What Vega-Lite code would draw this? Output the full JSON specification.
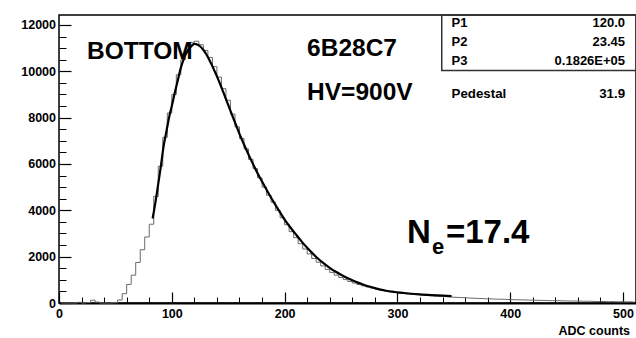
{
  "$schema": "https://vega.github.io/schema/vega-lite/v6.json",
  "width": 577,
  "height": 288,
  "autosize": {"type": "none"},
  "padding": {"left": 59, "top": 15, "right": 0, "bottom": 35},
  "background": "white",
  "config": {
    "view": {"stroke": "black", "strokeWidth": 1.5},
    "font": "Liberation Sans",
    "axis": {
      "labelFont": "Liberation Sans",
      "labelFontWeight": "bold",
      "labelColor": "black",
      "tickColor": "black",
      "domainColor": "black",
      "grid": false,
      "labelFlush": false,
      "labelOverlap": false,
      "labelBound": false
    }
  },
  "data": {"values": [{}]},
  "datasets": {
    "hist": [
      {"adc": 2, "counts": 0}, {"adc": 6, "counts": 0}, {"adc": 10, "counts": 0}, {"adc": 14, "counts": 0},
      {"adc": 18, "counts": 30}, {"adc": 22, "counts": 0}, {"adc": 26, "counts": 20}, {"adc": 30, "counts": 120},
      {"adc": 34, "counts": 40}, {"adc": 38, "counts": 0}, {"adc": 42, "counts": 0}, {"adc": 46, "counts": 0},
      {"adc": 50, "counts": 10}, {"adc": 54, "counts": 130}, {"adc": 58, "counts": 400}, {"adc": 62, "counts": 800},
      {"adc": 66, "counts": 1200}, {"adc": 70, "counts": 1750}, {"adc": 74, "counts": 2300}, {"adc": 78, "counts": 2850},
      {"adc": 82, "counts": 3400}, {"adc": 86, "counts": 4600}, {"adc": 90, "counts": 5900}, {"adc": 94, "counts": 7150},
      {"adc": 98, "counts": 8200}, {"adc": 102, "counts": 9000}, {"adc": 106, "counts": 9850}, {"adc": 110, "counts": 10500},
      {"adc": 114, "counts": 10950}, {"adc": 118, "counts": 11250}, {"adc": 122, "counts": 11300}, {"adc": 126, "counts": 11150},
      {"adc": 130, "counts": 10900}, {"adc": 134, "counts": 10600}, {"adc": 138, "counts": 10200}, {"adc": 142, "counts": 9750},
      {"adc": 146, "counts": 9250}, {"adc": 150, "counts": 8750}, {"adc": 154, "counts": 8150}, {"adc": 158, "counts": 7600},
      {"adc": 162, "counts": 7100}, {"adc": 166, "counts": 6650}, {"adc": 170, "counts": 6200}, {"adc": 174, "counts": 5800},
      {"adc": 178, "counts": 5400}, {"adc": 182, "counts": 5000}, {"adc": 186, "counts": 4650}, {"adc": 190, "counts": 4350},
      {"adc": 194, "counts": 4000}, {"adc": 198, "counts": 3680}, {"adc": 202, "counts": 3380}, {"adc": 206, "counts": 3080},
      {"adc": 210, "counts": 2820}, {"adc": 214, "counts": 2560}, {"adc": 218, "counts": 2330}, {"adc": 222, "counts": 2120},
      {"adc": 226, "counts": 1920}, {"adc": 230, "counts": 1760}, {"adc": 234, "counts": 1600}, {"adc": 238, "counts": 1450},
      {"adc": 242, "counts": 1320}, {"adc": 246, "counts": 1200}, {"adc": 250, "counts": 1100}, {"adc": 254, "counts": 1010},
      {"adc": 258, "counts": 930}, {"adc": 262, "counts": 860}, {"adc": 266, "counts": 800}, {"adc": 270, "counts": 740},
      {"adc": 274, "counts": 690}, {"adc": 278, "counts": 640}, {"adc": 282, "counts": 600}, {"adc": 286, "counts": 560},
      {"adc": 290, "counts": 520}, {"adc": 294, "counts": 490}, {"adc": 298, "counts": 460}, {"adc": 302, "counts": 430},
      {"adc": 306, "counts": 410}, {"adc": 310, "counts": 390}, {"adc": 314, "counts": 375}, {"adc": 318, "counts": 360},
      {"adc": 322, "counts": 345}, {"adc": 326, "counts": 330}, {"adc": 330, "counts": 315}, {"adc": 334, "counts": 300},
      {"adc": 338, "counts": 290}, {"adc": 342, "counts": 278}, {"adc": 346, "counts": 265}, {"adc": 350, "counts": 250},
      {"adc": 354, "counts": 240}, {"adc": 358, "counts": 230}, {"adc": 362, "counts": 220}, {"adc": 366, "counts": 210},
      {"adc": 370, "counts": 200}, {"adc": 374, "counts": 195}, {"adc": 378, "counts": 185}, {"adc": 382, "counts": 180},
      {"adc": 386, "counts": 170}, {"adc": 390, "counts": 165}, {"adc": 394, "counts": 160}, {"adc": 398, "counts": 150},
      {"adc": 402, "counts": 145}, {"adc": 406, "counts": 140}, {"adc": 410, "counts": 135}, {"adc": 414, "counts": 130},
      {"adc": 418, "counts": 125}, {"adc": 422, "counts": 120}, {"adc": 426, "counts": 115}, {"adc": 430, "counts": 110},
      {"adc": 434, "counts": 105}, {"adc": 438, "counts": 100}, {"adc": 442, "counts": 100}, {"adc": 446, "counts": 95},
      {"adc": 450, "counts": 90}, {"adc": 454, "counts": 85}, {"adc": 458, "counts": 85}, {"adc": 462, "counts": 80},
      {"adc": 466, "counts": 75}, {"adc": 470, "counts": 75}, {"adc": 474, "counts": 70}, {"adc": 478, "counts": 65},
      {"adc": 482, "counts": 65}, {"adc": 486, "counts": 60}, {"adc": 490, "counts": 60}, {"adc": 494, "counts": 55},
      {"adc": 498, "counts": 55}, {"adc": 502, "counts": 50}, {"adc": 506, "counts": 50}, {"adc": 510, "counts": 45}
    ],
    "fit": [
      {"adc": 83, "counts": 3650}, {"adc": 85, "counts": 4200}, {"adc": 88, "counts": 5150}, {"adc": 90, "counts": 5800},
      {"adc": 93, "counts": 6850}, {"adc": 95, "counts": 7350}, {"adc": 98, "counts": 8100}, {"adc": 100, "counts": 8500},
      {"adc": 103, "counts": 9150}, {"adc": 105, "counts": 9550}, {"adc": 108, "counts": 10150}, {"adc": 110, "counts": 10450},
      {"adc": 113, "counts": 10800}, {"adc": 115, "counts": 10950}, {"adc": 118, "counts": 11120}, {"adc": 120, "counts": 11180},
      {"adc": 123, "counts": 11150}, {"adc": 125, "counts": 11080}, {"adc": 128, "counts": 10920}, {"adc": 130, "counts": 10780},
      {"adc": 133, "counts": 10520}, {"adc": 135, "counts": 10320}, {"adc": 138, "counts": 10000}, {"adc": 140, "counts": 9780},
      {"adc": 143, "counts": 9430}, {"adc": 145, "counts": 9180}, {"adc": 148, "counts": 8800}, {"adc": 150, "counts": 8550},
      {"adc": 155, "counts": 7920}, {"adc": 160, "counts": 7300}, {"adc": 165, "counts": 6730}, {"adc": 170, "counts": 6200},
      {"adc": 175, "counts": 5700}, {"adc": 180, "counts": 5240}, {"adc": 185, "counts": 4800}, {"adc": 190, "counts": 4380},
      {"adc": 195, "counts": 3990}, {"adc": 200, "counts": 3600}, {"adc": 205, "counts": 3270}, {"adc": 210, "counts": 2960},
      {"adc": 215, "counts": 2660}, {"adc": 220, "counts": 2380}, {"adc": 225, "counts": 2130}, {"adc": 230, "counts": 1900},
      {"adc": 235, "counts": 1700}, {"adc": 240, "counts": 1520}, {"adc": 245, "counts": 1360}, {"adc": 250, "counts": 1220},
      {"adc": 255, "counts": 1090}, {"adc": 260, "counts": 980}, {"adc": 265, "counts": 880}, {"adc": 270, "counts": 790},
      {"adc": 275, "counts": 710}, {"adc": 280, "counts": 640}, {"adc": 285, "counts": 580}, {"adc": 290, "counts": 530},
      {"adc": 295, "counts": 490}, {"adc": 300, "counts": 460}, {"adc": 310, "counts": 410}, {"adc": 320, "counts": 370},
      {"adc": 330, "counts": 340}, {"adc": 340, "counts": 315}, {"adc": 348, "counts": 295}
    ]
  },
  "layer": [
    {
      "data": {"name": "hist"},
      "mark": {"type": "line", "interpolate": "step", "color": "#6a6a6a", "strokeWidth": 1},
      "encoding": {
        "x": {
          "field": "adc", "type": "quantitative",
          "scale": {"domain": [0, 511.5], "nice": false, "zero": false},
          "axis": {
            "orient": "bottom",
            "values": [0, 100, 200, 300, 400, 500],
            "format": "d",
            "tickSize": -11,
            "tickWidth": 1.2,
            "domainWidth": 2,
            "labelFontSize": 12.5,
            "labelPadding": 15,
            "title": "ADC counts",
            "titleFont": "Liberation Sans",
            "titleFontWeight": "bold",
            "titleFontSize": 12.5,
            "titleColor": "black",
            "titleAlign": "left",
            "titleBaseline": "alphabetic",
            "titleAnchor": null,
            "titleX": 499,
            "titleY": 31.5
          }
        },
        "y": {
          "field": "counts", "type": "quantitative",
          "scale": {"domain": [0, 12430], "nice": false},
          "axis": {
            "orient": "left",
            "values": [0, 2000, 4000, 6000, 8000, 10000, 12000],
            "format": "d",
            "tickSize": -12,
            "tickWidth": 1.2,
            "domain": false,
            "labelFontSize": 12.5,
            "labelPadding": 15.5,
            "title": null
          }
        }
      }
    },
    {
      "data": {"name": "fit"},
      "mark": {"type": "line", "interpolate": "monotone", "color": "black", "strokeWidth": 2.2},
      "encoding": {
        "x": {
          "field": "adc", "type": "quantitative",
          "axis": {
            "orient": "bottom",
            "values": [20, 40, 60, 80, 120, 140, 160, 180, 220, 240, 260, 280, 320, 340, 360, 380, 420, 440, 460, 480],
            "tickSize": -6,
            "tickWidth": 1,
            "labels": false,
            "domain": false,
            "title": null
          }
        },
        "y": {
          "field": "counts", "type": "quantitative",
          "axis": {
            "orient": "left",
            "values": [500, 1000, 1500, 2500, 3000, 3500, 4500, 5000, 5500, 6500, 7000, 7500, 8500, 9000, 9500, 10500, 11000, 11500],
            "tickSize": -7,
            "tickWidth": 1,
            "labels": false,
            "domain": false,
            "title": null
          }
        }
      }
    },
    {
      "mark": {"type": "rect", "fill": null, "fillOpacity": 0, "stroke": "#333333", "strokeWidth": 1.5},
      "encoding": {
        "x": {"datum": 339.3, "type": "quantitative", "axis": null},
        "x2": {"datum": 540},
        "y": {"datum": 10035, "type": "quantitative", "axis": null},
        "y2": {"datum": 12430}
      }
    },
    {
      "mark": {"type": "text", "text": "BOTTOM", "fontWeight": "bold", "fontSize": 24.5, "align": "left", "baseline": "alphabetic", "color": "black"},
      "encoding": {"x": {"datum": 24.8, "type": "quantitative", "axis": null}, "y": {"datum": 10540, "type": "quantitative", "axis": null}}
    },
    {
      "mark": {"type": "text", "text": "6B28C7", "fontWeight": "bold", "fontSize": 24.5, "align": "left", "baseline": "alphabetic", "color": "black"},
      "encoding": {"x": {"datum": 219.9, "type": "quantitative", "axis": null}, "y": {"datum": 10650, "type": "quantitative", "axis": null}}
    },
    {
      "mark": {"type": "text", "text": "HV=900V", "fontWeight": "bold", "fontSize": 24.5, "align": "left", "baseline": "alphabetic", "color": "black"},
      "encoding": {"x": {"datum": 219.9, "type": "quantitative", "axis": null}, "y": {"datum": 8783, "type": "quantitative", "axis": null}}
    },
    {
      "mark": {"type": "text", "text": "N", "fontWeight": "bold", "fontSize": 33, "align": "left", "baseline": "alphabetic", "color": "black"},
      "encoding": {"x": {"datum": 308.5, "type": "quantitative", "axis": null}, "y": {"datum": 2581, "type": "quantitative", "axis": null}}
    },
    {
      "mark": {"type": "text", "text": "e", "fontWeight": "bold", "fontSize": 22, "align": "left", "baseline": "alphabetic", "color": "black"},
      "encoding": {"x": {"datum": 330.7, "type": "quantitative", "axis": null}, "y": {"datum": 2136, "type": "quantitative", "axis": null}}
    },
    {
      "mark": {"type": "text", "text": "=17.4", "fontWeight": "bold", "fontSize": 33, "align": "left", "baseline": "alphabetic", "color": "black"},
      "encoding": {"x": {"datum": 343, "type": "quantitative", "axis": null}, "y": {"datum": 2581, "type": "quantitative", "axis": null}}
    },
    {
      "mark": {"type": "text", "text": "P1", "fontWeight": "bold", "fontSize": 13, "align": "left", "baseline": "middle", "color": "black"},
      "encoding": {"x": {"datum": 348, "type": "quantitative", "axis": null}, "y": {"datum": 12093, "type": "quantitative", "axis": null}}
    },
    {
      "mark": {"type": "text", "text": "P2", "fontWeight": "bold", "fontSize": 13, "align": "left", "baseline": "middle", "color": "black"},
      "encoding": {"x": {"datum": 348, "type": "quantitative", "axis": null}, "y": {"datum": 11273, "type": "quantitative", "axis": null}}
    },
    {
      "mark": {"type": "text", "text": "P3", "fontWeight": "bold", "fontSize": 13, "align": "left", "baseline": "middle", "color": "black"},
      "encoding": {"x": {"datum": 348, "type": "quantitative", "axis": null}, "y": {"datum": 10436, "type": "quantitative", "axis": null}}
    },
    {
      "mark": {"type": "text", "text": "120.0", "fontWeight": "bold", "fontSize": 13, "align": "right", "baseline": "middle", "color": "black"},
      "encoding": {"x": {"datum": 501.8, "type": "quantitative", "axis": null}, "y": {"datum": 12093, "type": "quantitative", "axis": null}}
    },
    {
      "mark": {"type": "text", "text": "23.45", "fontWeight": "bold", "fontSize": 13, "align": "right", "baseline": "middle", "color": "black"},
      "encoding": {"x": {"datum": 501.8, "type": "quantitative", "axis": null}, "y": {"datum": 11273, "type": "quantitative", "axis": null}}
    },
    {
      "mark": {"type": "text", "text": "0.1826E+05", "fontWeight": "bold", "fontSize": 13, "align": "right", "baseline": "middle", "color": "black"},
      "encoding": {"x": {"datum": 501.8, "type": "quantitative", "axis": null}, "y": {"datum": 10436, "type": "quantitative", "axis": null}}
    },
    {
      "mark": {"type": "text", "text": "Pedestal", "fontWeight": "bold", "fontSize": 13.3, "align": "left", "baseline": "middle", "color": "black"},
      "encoding": {"x": {"datum": 348, "type": "quantitative", "axis": null}, "y": {"datum": 9029, "type": "quantitative", "axis": null}}
    },
    {
      "mark": {"type": "text", "text": "31.9", "fontWeight": "bold", "fontSize": 13.3, "align": "right", "baseline": "middle", "color": "black"},
      "encoding": {"x": {"datum": 501.8, "type": "quantitative", "axis": null}, "y": {"datum": 9029, "type": "quantitative", "axis": null}}
    }
  ],
  "resolve": {"axis": {"x": "independent", "y": "independent"}}
}
